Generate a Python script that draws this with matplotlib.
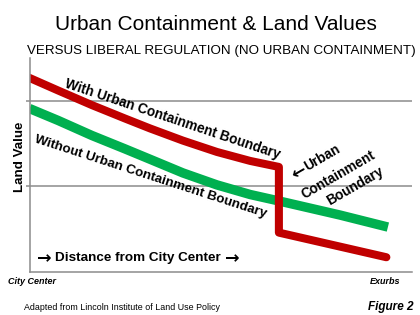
import matplotlib
matplotlib.use("Agg")
import matplotlib.pyplot as plt
from matplotlib import font_manager

# land value curves (distance 0..100, value 0..100)
red_x = [0, 7.5, 16.3, 25.0, 31.5, 40.1, 49.0, 57.7, 65.2, 65.2, 93.3]
red_y = [90.7, 84.8, 78.0, 71.7, 67.1, 61.4, 56.1, 51.9, 49.1, 18.4, 6.9]
green_x = [0, 7.5, 16.3, 25.0, 32.3, 40.1, 49.0, 57.7, 65.2, 81.2, 93.7]
green_y = [76.4, 70.8, 63.8, 57.5, 52.1, 46.3, 40.7, 36.2, 33.2, 26.6, 21.0]
grid_y = [40, 80]

title = "Urban Containment & Land Values"
subtitle = "VERSUS LIBERAL REGULATION (NO URBAN CONTAINMENT)"
red_label = "With Urban Containment Boundary"
green_label = "Without Urban Containment Boundary"
boundary_lines = ["Urban", "Containment", "Boundary"]
x_label = "Distance from City Center"
y_label = "Land Value"
x_left, x_right = "City Center", "Exurbs"
source = "Adapted from Lincoln Institute of Land Use Policy"
fig_no = "Figure 2"
LARR, RARR = "\u2190", "\u2192"

RED = "#c00000"
GREEN = "#00b050"
GREY = "#8c8c8c"

W, H = 420, 315
plt.rcParams['font.family'] = ['Liberation Sans', 'DejaVu Sans']

# narrow bold like the original if we have it, else shrink regular bold
names = {f.name for f in font_manager.fontManager.ttflist}
if 'Liberation Sans Narrow' in names:
    narrow, k = 'Liberation Sans Narrow', 1.0
else:
    narrow, k = 'Liberation Sans', 0.84


def px(x, y):
    return x / W, 1 - y / H


fig = plt.figure(figsize=(W / 100, H / 100), dpi=100)
ax = fig.add_axes([29.5 / W, (H - 272) / H, (412 - 29.5) / W, (272 - 58) / H])
ax.set_xlim(0, 100)
ax.set_ylim(0, 100)

for s in ['top', 'right']:
    ax.spines[s].set_visible(False)
for s in ['left', 'bottom']:
    ax.spines[s].set_color(GREY)
    ax.spines[s].set_linewidth(1.1)

ax.set_xticks([])
ax.set_yticks(grid_y)
ax.set_yticklabels([])
ax.tick_params(axis='y', length=3, width=1.1, color=GREY)
ax.grid(axis='y', color=GREY, linewidth=1.1)
ax.set_axisbelow(True)

ax.plot(green_x, green_y, color=GREEN, lw=6.8, solid_capstyle='butt',
        solid_joinstyle='round')
ax.plot(red_x, red_y, color=RED, lw=5.8, solid_capstyle='round',
        solid_joinstyle='round')

fig.text(*px(216, 24), title, ha='center', va='center', fontsize=15)
fig.text(*px(221, 54), subtitle, ha='center', va='baseline', fontsize=9.6)

bold = dict(family=narrow, weight='bold', rotation_mode='anchor',
            va='center')
arrow = dict(family='DejaVu Sans', weight='bold', rotation_mode='anchor',
             va='center', fontsize=12.5)
fig.text(*px(173, 119), red_label, fontsize=11.7 * k, rotation=-18.5,
         ha='center', **bold)
fig.text(*px(151, 177), green_label, fontsize=11.5 * k, rotation=-18,
         ha='center', **bold)

# "<- Urban / Containment / Boundary" note beside the jump
fig.text(*px(305, 168), LARR, rotation=30, ha='right', **arrow)
fig.text(*px(305, 168), boundary_lines[0], fontsize=11.7 * k, rotation=30,
         ha='left', **bold)
for (bx, by), line in zip([(338.5, 175), (355.5, 186.5)], boundary_lines[1:]):
    fig.text(*px(bx, by), line, fontsize=11.7 * k, rotation=30,
             ha='center', **bold)

fig.text(*px(20, 157), y_label, fontsize=11.5 * k, rotation=90,
         ha='center', **bold)
fig.text(*px(37, 258), RARR, ha='left', **arrow)
fig.text(*px(55, 258), x_label, fontsize=11.7 * 0.83, ha='left', **bold)
fig.text(*px(239, 258), RARR, ha='right', **arrow)

fig.text(*px(8, 284), x_left, style='italic', weight='bold', fontsize=6.5,
         ha='left', va='baseline')
fig.text(*px(400, 284), x_right, style='italic', weight='bold', fontsize=6.5,
         ha='right', va='baseline')
fig.text(*px(24, 310), source, family=narrow, fontsize=7.6 * k,
         ha='left', va='baseline')
fig.text(*px(413, 310), fig_no, style='italic', weight='bold', fontsize=8.5,
         ha='right', va='baseline')

fig.savefig("out.png", dpi=100)
